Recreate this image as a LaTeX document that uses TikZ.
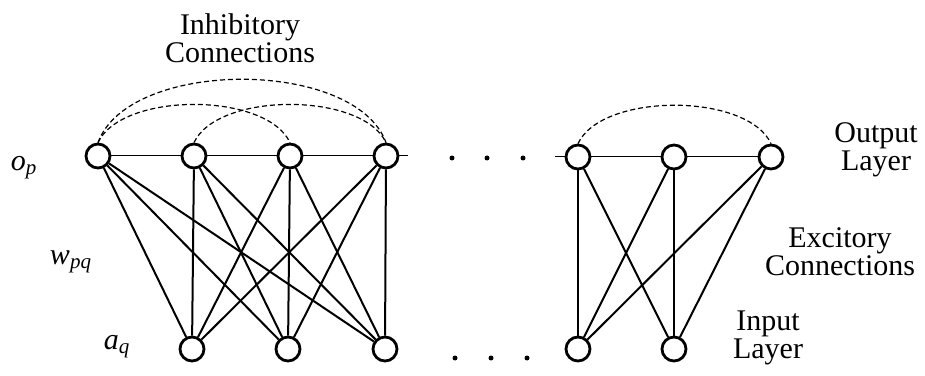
\documentclass[tikz,border=0pt]{standalone}
\usepackage{fontspec}
\setmainfont{Liberation Serif}
\usetikzlibrary{positioning}

\tikzset{
  unit/.style={circle, draw, line width=1.4pt, fill=white, minimum size=12pt, inner sep=0pt},
  weight/.style={line width=1pt},
  lateral/.style={line width=0.5pt},
  inhib/.style={line width=0.6pt, dash pattern=on 2.5pt off 1.5pt},
  caption/.style={align=center},
  ellipsisdot/.style={circle, fill, inner sep=0pt, minimum size=2.5pt}
}

\begin{document}
\begin{tikzpicture}[x=0.5pt,y=0.5pt, font=\fontsize{15}{14}\selectfont]
  \path[use as bounding box] (0,0) rectangle (925,375);

  % output units (left group)
  \foreach \i/\x in {1/98,2/194,3/290,4/386}
    \node[unit] (o\i) at (\x,219) {};
  % input units (left group)
  \foreach \i/\x in {1/192,2/288,3/385}
    \node[unit] (a\i) at (\x,26) {};
  % right group
  \foreach \i/\x in {1/578,2/674,3/771}
    \node[unit] (ro\i) at (\x,218) {};
  \foreach \i/\x in {1/578,2/674}
    \node[unit] (ra\i) at (\x,26) {};

  % excitory weights, every input to every output
  \foreach \i in {1,...,4}
    \foreach \j in {1,2,3}
      \draw[weight] (o\i) -- (a\j);
  \foreach \i in {1,2,3}
    \foreach \j in {1,2}
      \draw[weight] (ro\i) -- (ra\j);

  % lateral line through the output layer
  \coordinate (lend) at (408,219);
  \coordinate (rstart) at (555,218);
  \draw[lateral] (o1) -- (o2) -- (o3) -- (o4) -- (lend);
  \draw[lateral] (rstart) -- (ro1) -- (ro2) -- (ro3);

  % inhibitory arcs
  \draw[inhib] (o1.north) to[out=70,in=110,looseness=0.8] (o4.north);
  \draw[inhib] (o1.north) to[out=65,in=115,looseness=0.75] (o3.north);
  \draw[inhib] (o2.north) to[out=65,in=115,looseness=0.75] (o4.north);
  \draw[inhib] (ro1.north) to[out=65,in=115,looseness=0.75] (ro3.north);

  % ellipsis between the groups
  \foreach \x [count=\k] in {452,487,523}
    \node[ellipsisdot] (dt\k) at (\x,217) {};
  \foreach \x [count=\k] in {455,491,527}
    \node[ellipsisdot] (db\k) at (\x,17) {};

  % labels
  \node[caption] (inhlbl) at (240,337) {Inhibitory\\Connections};
  \node[caption] (outlbl) at (876,225) {Output\\Layer};
  \node[caption] (exclbl) at (840,123) {Excitory\\Connections};
  \node[caption] (inlbl) at (768,37) {Input\\Layer};
  \node (oplbl) at (24,207) {\textit{o}\textsubscript{\textit{p}}};
  \node (wlbl) at (71,113) {\textit{w}\textsubscript{\textit{pq}}};
  \node (albl) at (117,28) {\textit{a}\textsubscript{\textit{q}}};
\end{tikzpicture}
\end{document}
